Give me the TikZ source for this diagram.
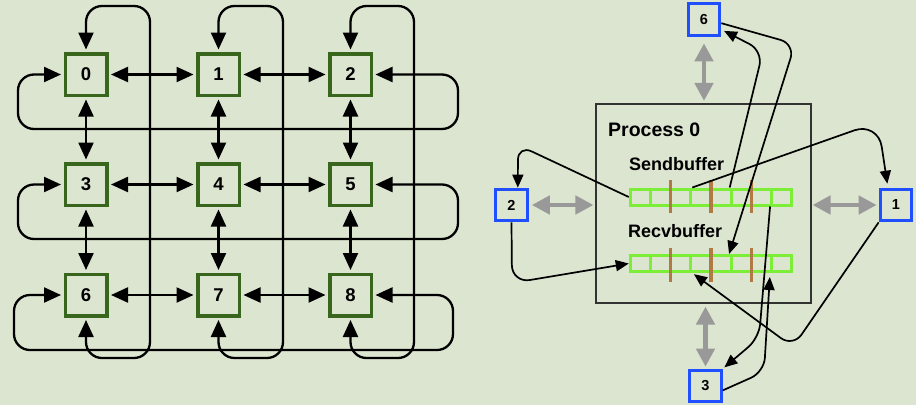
\documentclass[tikz,border=0pt]{standalone}
\usepackage{fontspec}
\setmainfont{Liberation Sans}
\usetikzlibrary{arrows.meta,calc}
\definecolor{bg}{HTML}{DCE5D0}
\definecolor{dgreen}{HTML}{38661C}
\definecolor{bblue}{HTML}{1F4FFF}
\definecolor{lgreen}{HTML}{7CEE38}
\definecolor{bbrown}{HTML}{B07A45}
\definecolor{garr}{HTML}{999999}
\definecolor{pline}{HTML}{333333}
\begin{document}
\begin{tikzpicture}[x=1pt,y=-1pt,
  gnode/.style={draw=dgreen, line width=3.5pt, minimum size=41.5pt, inner sep=0pt, font=\bfseries\fontsize{18.5}{18.5}\selectfont},
  bnode/.style={draw=bblue, line width=3.2pt, minimum size=31.5pt, inner sep=0pt, font=\bfseries\fontsize{14.5}{14.5}\selectfont},
  bi/.style={line width=2.3pt, {Triangle[length=17pt,width=15pt]}-{Triangle[length=17pt,width=15pt]}, shorten <=2.5pt, shorten >=2.5pt},
  wrap/.style={bi, rounded corners=16pt},
  garrow/.style={draw=garr, line width=4.5pt, {Triangle[length=18pt,width=18pt]}-{Triangle[length=18pt,width=18pt]}},
  thinarr/.style={line width=1.7pt, -{Triangle[length=13pt,width=11pt]}, rounded corners=15pt},
  cell/.style={draw=lgreen, line width=3pt, minimum width=20.19pt, minimum height=16pt, inner sep=0pt},
  bar/.style={draw=bbrown, line width=3.5pt},
  lbl/.style={anchor=west, inner sep=0pt, font=\bfseries\fontsize{18}{18}\selectfont}
]
\fill[bg] (0,0) rectangle (916,405);
\useasboundingbox (0,0) rectangle (916,405);

% ---------- left grid ----------
\node[gnode] (n0) at (86,74.5) {0};
\node[gnode] (n1) at (218.5,74.5) {1};
\node[gnode] (n2) at (350.5,74.5) {2};
\node[gnode] (n3) at (86,184.5) {3};
\node[gnode] (n4) at (218.5,184.5) {4};
\node[gnode] (n5) at (350.5,184.5) {5};
\node[gnode] (n6) at (86,295) {6};
\node[gnode] (n7) at (218.5,295) {7};
\node[gnode] (n8) at (350.5,295) {8};

\draw[bi] (n0) -- (n1);
\draw[bi] (n1) -- (n2);
\draw[bi] (n3) -- (n4);
\draw[bi] (n4) -- (n5);
\draw[bi] (n6) -- (n7);
\draw[bi] (n7) -- (n8);
\draw[bi] (n0) -- (n3);
\draw[bi] (n3) -- (n6);
\draw[bi] (n1) -- (n4);
\draw[bi] (n4) -- (n7);
\draw[bi] (n2) -- (n5);
\draw[bi] (n5) -- (n8);

% row wrap-arounds
\draw[wrap] (n2.east) -| (458,129) -- (18,129) |- (n0.west);
\draw[wrap] (n5.east) -| (458,239) -- (18,239) |- (n3.west);
\draw[wrap] (n8.east) -| (453,350) -- (14,350) |- (n6.west);
% column wrap-arounds
\draw[wrap] (n0.north) |- (150,6) -- (150,358) -| (n6.south);
\draw[wrap] (n1.north) |- (283,6) -- (283,358) -| (n7.south);
\draw[wrap] (n2.north) |- (414,6) -- (414,358) -| (n8.south);

% ---------- right part ----------
\node[draw=pline, line width=1.6pt, minimum width=215.5pt, minimum height=199.5pt, inner sep=0pt] (proc) at (703.5,203.5) {};
\node[anchor=west, inner sep=0pt, font=\bfseries\fontsize{19.5}{20}\selectfont] (ptitle) at (608,130) {Process 0};
\node[lbl] (slbl) at (629,164) {Sendbuffer};
\node[lbl] (rlbl) at (628,231) {Recvbuffer};

\foreach \i in {1,...,8} {
  \node[cell] (sb\i) at ({630.25+20.19*(\i-0.5)},197) {};
  \node[cell] (rb\i) at ({630.25+20.19*(\i-0.5)},263.5) {};
}
\foreach \x in {670.6,711,751.4} {
  \draw[bar] (\x,180) -- (\x,213);
  \draw[bar] (\x,248) -- (\x,282);
}

\node[bnode] (b6) at (704,19.5) {6};
\node[bnode] (b2) at (511.5,205) {2};
\node[bnode] (b1) at (896,205) {1};
\node[bnode] (b3) at (705.5,386) {3};

\draw[garrow, shorten <=6.5pt, shorten >=2pt] (b6.south) -- (b6.south |- proc.north);
\draw[garrow, shorten <=3pt, shorten >=1.5pt] (b2.east) -- (b2.east -| proc.west);
\draw[garrow, shorten <=2pt, shorten >=0.5pt] (b1.west) -- (b1.west -| proc.east);
\draw[garrow, shorten <=2pt, shorten >=2.5pt] (b3.north) -- (b3.north |- proc.south);

% message arrows
\draw[thinarr] (sb1.west) -- (518,145) -- (b2.70);
\draw[thinarr, rounded corners=18pt] (b2.south) -- (512,283) -- (rb1.west);
\draw[thinarr, rounded corners=25pt, shorten >=4pt] (sb3.north east) -- (878,122) -- (b1.115);
\draw[thinarr, shorten >=2pt] (b1.south west) -- (793,347) -- (rb3.south east);
\draw[thinarr, shorten >=3pt] (sb6.north west) -- (763,51) -- (b6.-30);
\draw[thinarr] (b6.-12) -- (795,44) -- (rb5.50);
\draw[thinarr, rounded corners=14pt, shorten >=2pt] (sb8.south west) -- (759,338) -- (b3.north east);
\draw[thinarr, rounded corners=14pt, shorten >=4pt] (b3.-14) -- (764,372) -- (rb8.south west);
\end{tikzpicture}
\end{document}
